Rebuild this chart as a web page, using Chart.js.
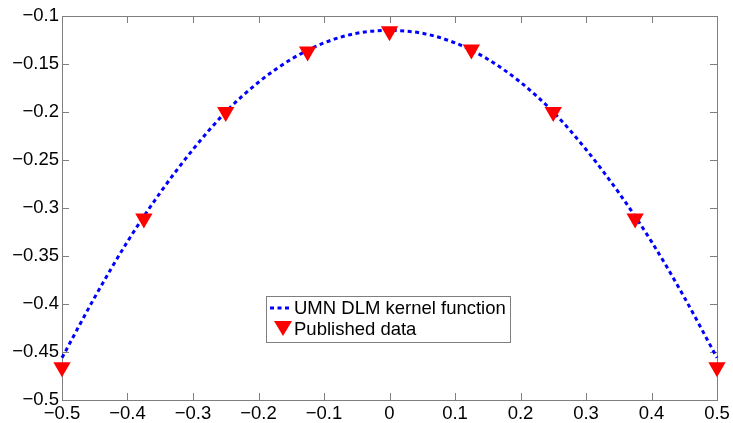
<!DOCTYPE html>
<html>
<head>
<meta charset="utf-8">
<script src="https://cdn.jsdelivr.net/npm/chart.js@4"></script>
<style>
  html, body { margin: 0; padding: 0; background: #fff; }
  #wrap { width: 733px; height: 423px; }
</style>
</head>
<body>
<div id="wrap"><canvas id="kernel" width="733" height="423"></canvas></div>
<script>
// Kernel curve
const curveX = [-0.5, -0.45, -0.4, -0.35, -0.3, -0.25, -0.2, -0.15, -0.1, -0.05, 0, 0.05, 0.1, 0.15, 0.2, 0.25, 0.3, 0.35, 0.4, 0.45, 0.5];
const curveY = [-0.456, -0.393, -0.335, -0.284, -0.239, -0.2, -0.169, -0.145, -0.128, -0.118, -0.115, -0.118, -0.128, -0.145, -0.169, -0.2, -0.239, -0.284, -0.335, -0.393, -0.456];
// Published points
const pubX = [-0.5, -0.375, -0.25, -0.125, 0, 0.125, 0.25, 0.375, 0.5];
const pubY = [-0.466, -0.311, -0.2, -0.137, -0.116, -0.135, -0.2, -0.311, -0.466];
// Tick labels
const xTicks = [-0.5, -0.4, -0.3, -0.2, -0.1, 0, 0.1, 0.2, 0.3, 0.4, 0.5];
const yTicks = [-0.5, -0.45, -0.4, -0.35, -0.3, -0.25, -0.2, -0.15, -0.1];
const legendLabels = ['UMN DLM kernel function', 'Published data'];

const FONT = '"Liberation Sans", Arial, Helvetica, sans-serif';
const FONT_SIZE = 18.5;
const AXIS_GRAY = '#7f7f7f';

function fmt(v) {
    return String(Number(v.toFixed(2))).replace('-', '\u2212');
}

// MATLAB style box with inward ticks
const boxPlugin = {
    id: 'box',
    beforeDatasetsDraw(chart) {
        const ctx = chart.ctx;
        const a = chart.chartArea;
        const xs = chart.scales.x;
        const ys = chart.scales.y;
        const len = 7;
        ctx.save();
        ctx.strokeStyle = AXIS_GRAY;
        ctx.lineWidth = 1;
        ctx.beginPath();
        xTicks.forEach(v => {
            const px = Math.round(xs.getPixelForValue(v)) + 0.5;
            ctx.moveTo(px, a.bottom); ctx.lineTo(px, a.bottom - len);
            ctx.moveTo(px, a.top); ctx.lineTo(px, a.top + len);
        });
        yTicks.forEach(v => {
            const py = Math.round(ys.getPixelForValue(v)) + 0.5;
            ctx.moveTo(a.left, py); ctx.lineTo(a.left + len, py);
            ctx.moveTo(a.right, py); ctx.lineTo(a.right - len, py);
        });
        ctx.stroke();
        ctx.strokeRect(Math.round(a.left) + 0.5, Math.round(a.top) + 0.5,
            Math.round(a.right - a.left), Math.round(a.bottom - a.top));
        ctx.restore();
    }
};

// Legend box inside the axes
const legendPlugin = {
    id: 'innerLegend',
    afterDatasetsDraw(chart) {
        const ctx = chart.ctx;
        const bx = 266, by = 296, bw = 244, bh = 46;
        ctx.save();
        ctx.fillStyle = '#fff';
        ctx.fillRect(bx, by, bw, bh);
        ctx.strokeStyle = AXIS_GRAY;
        ctx.lineWidth = 1;
        ctx.strokeRect(bx + 0.5, by + 0.5, bw, bh);

        // dashed line sample
        ctx.strokeStyle = '#0000ff';
        ctx.lineWidth = 3;
        ctx.setLineDash([4, 3.5]);
        ctx.beginPath();
        ctx.moveTo(270, 308);
        ctx.lineTo(292, 308);
        ctx.stroke();
        ctx.setLineDash([]);

        // triangle sample
        ctx.fillStyle = '#ff0000';
        ctx.beginPath();
        ctx.moveTo(274, 321);
        ctx.lineTo(292, 321);
        ctx.lineTo(283, 336);
        ctx.closePath();
        ctx.fill();

        ctx.fillStyle = '#000';
        ctx.font = FONT_SIZE + 'px ' + FONT;
        ctx.textBaseline = 'middle';
        ctx.textAlign = 'left';
        ctx.fillText(legendLabels[0], 294, 309);
        ctx.fillText(legendLabels[1], 294, 330);
        ctx.restore();
    }
};

const ctx = document.getElementById('kernel');
new Chart(ctx, {
    type: 'scatter',
    data: {
        datasets: [{
            label: legendLabels[0],
            data: curveX.map((x, i) => ({ x: x, y: curveY[i] })),
            showLine: true,
            borderColor: '#0000ff',
            borderWidth: 3,
            borderDash: [4, 3.5],
            pointRadius: 0,
            tension: 0.4,
            cubicInterpolationMode: 'monotone',
            fill: false,
            order: 1,
            clip: false
        }, {
            label: legendLabels[1],
            data: pubX.map((x, i) => ({ x: x, y: pubY[i] })),
            showLine: false,
            pointStyle: 'triangle',
            rotation: 180,
            pointRadius: 10,
            backgroundColor: '#ff0000',
            borderColor: '#ff0000',
            borderWidth: 0,
            order: 0,
            clip: false
        }]
    },
    options: {
        responsive: false,
        animation: false,
        layout: { padding: { top: 16, right: 16, left: 0, bottom: 0 } },
        plugins: {
            legend: { display: false },
            tooltip: { enabled: false }
        },
        scales: {
            x: {
                type: 'linear',
                min: -0.5,
                max: 0.5,
                afterBuildTicks: s => { s.ticks = xTicks.map(v => ({ value: v })); },
                afterFit: s => { s.height = 23; },
                grid: { display: false, drawTicks: false },
                border: { display: false },
                ticks: {
                    padding: 3,
                    color: '#000',
                    font: { family: FONT, size: FONT_SIZE },
                    maxRotation: 0,
                    autoSkip: false,
                    callback: v => fmt(v)
                }
            },
            y: {
                type: 'linear',
                min: -0.5,
                max: -0.1,
                afterBuildTicks: s => { s.ticks = yTicks.map(v => ({ value: v })); },
                afterFit: s => { s.width = 62; },
                grid: { display: false, drawTicks: false },
                border: { display: false },
                ticks: {
                    padding: 3,
                    color: '#000',
                    font: { family: FONT, size: FONT_SIZE },
                    autoSkip: false,
                    callback: v => fmt(v)
                }
            }
        }
    },
    plugins: [boxPlugin, legendPlugin]
});
</script>
</body>
</html>
